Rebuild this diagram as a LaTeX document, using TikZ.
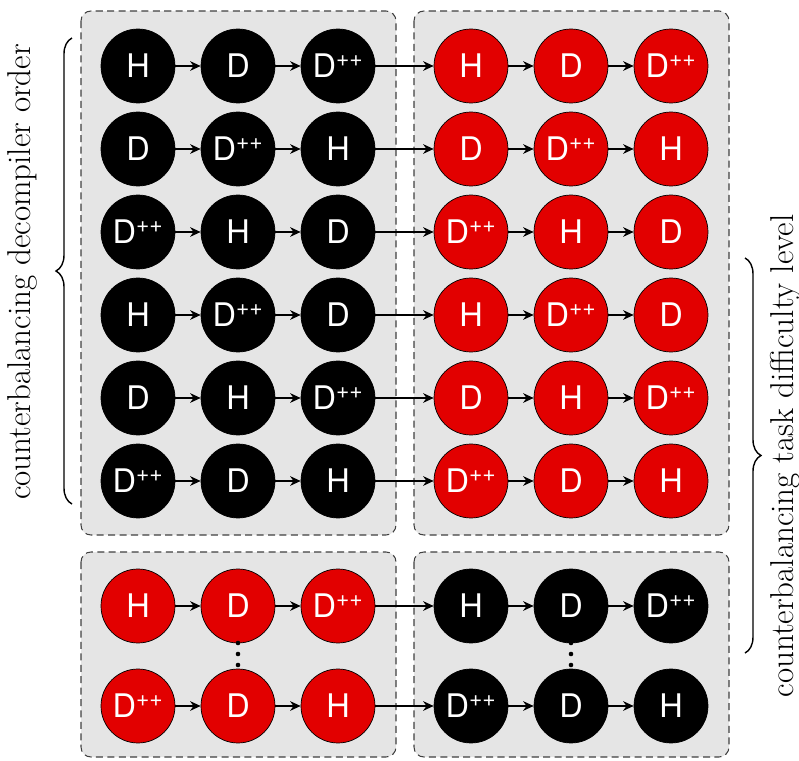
\documentclass[tikz,border=0pt]{standalone}
\usepackage{fontspec}
\newfontfamily\circfont{TeX Gyre Heros}
\usepackage{xcolor}
\usepackage{tikz}
\usetikzlibrary{arrows.meta}
\usetikzlibrary{decorations.pathreplacing}

\definecolor{cellred}{RGB}{226,0,0}
\newcommand{\Dpp}{D\textsuperscript{++}}

\tikzset{
    blk/.style={circle, draw=black, fill=black, text=white, minimum size=1.48cm, inner sep=0pt,
        font=\circfont\fontsize{18.5}{18.5}\selectfont},
    rd/.style={blk, fill=cellred},
    nxt/.style={-{Stealth[length=6pt, width=5.5pt]}, line width=0.8pt},
    panel/.style={draw=black!75, line width=0.6pt, dash pattern=on 4pt off 2.5pt,
        fill=gray!20, rounded corners=0.2cm},
    side/.style={rotate=90, font=\fontsize{18.8}{22}\selectfont},
}

\begin{document}
\begin{tikzpicture}[x=0.02cm, y=-0.02cm]
        \useasboundingbox (0,0) rectangle (799,761);

        % Riquadri
        \draw[panel] (81,11) rectangle (396,535);
        \draw[panel] (414,11) rectangle (729,535);
        \draw[panel] (81,552) rectangle (396,757);
        \draw[panel] (414,552) rectangle (729,757);

        % Righe in alto
        \foreach \a/\b/\c [count=\r] in {H/D/\Dpp, D/\Dpp/H, \Dpp/H/D, H/\Dpp/D, D/H/\Dpp, \Dpp/D/H} {
            \pgfmathsetmacro{\y}{66+(\r-1)*83}
            \node[blk] (t\r-1) at (138,\y) {\a};
            \node[blk] (t\r-2) at (238,\y) {\b};
            \node[blk] (t\r-3) at (338,\y) {\c};
            \node[rd] (t\r-4) at (471,\y) {\a};
            \node[rd] (t\r-5) at (571,\y) {\b};
            \node[rd] (t\r-6) at (671,\y) {\c};
            \foreach \i/\j in {1/2, 2/3, 3/4, 4/5, 5/6}
                \draw[nxt] (t\r-\i) -- (t\r-\j);
        }

        % Righe in basso
        \foreach \a/\b/\c/\y [count=\r] in {H/D/\Dpp/606, \Dpp/D/H/706} {
            \node[rd] (b\r-1) at (138,\y) {\a};
            \node[rd] (b\r-2) at (238,\y) {\b};
            \node[rd] (b\r-3) at (338,\y) {\c};
            \node[blk] (b\r-4) at (471,\y) {\a};
            \node[blk] (b\r-5) at (571,\y) {\b};
            \node[blk] (b\r-6) at (671,\y) {\c};
            \foreach \i/\j in {1/2, 2/3, 3/4, 4/5, 5/6}
                \draw[nxt] (b\r-\i) -- (b\r-\j);
        }

        % Puntini
        \foreach \y in {643, 654, 665} {
            \fill (238,\y) circle (1.3pt);
            \fill (571,\y) circle (1.3pt);
        }

        % Parentesi ed etichette
        \draw[line width=0.8pt, decorate, decoration={brace, amplitude=0.32cm}] (72,504) -- (72,38);
        \node[side] (lorder) at (22,272) {counterbalancing decompiler order};
        \draw[line width=0.8pt, decorate, decoration={brace, amplitude=0.32cm}] (745,258) -- (745,653);
        \node[side] (llevel) at (785,456) {counterbalancing task difficulty level};
    \end{tikzpicture}
\end{document}
